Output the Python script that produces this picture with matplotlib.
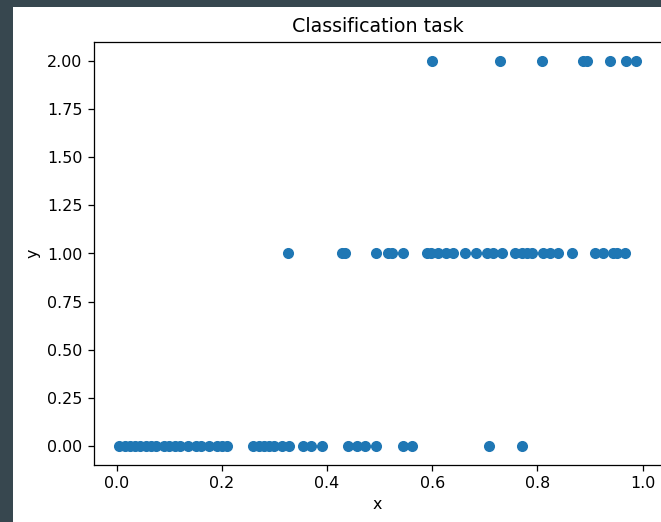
import numpy as np
import matplotlib
matplotlib.use('Agg')
import matplotlib.pyplot as plt
from matplotlib.patches import Rectangle

# valores: clase 0, 1 y 2
x_clase0 = [0.005, 0.015, 0.025, 0.035, 0.045, 0.055, 0.065, 0.075, 0.09, 0.10,
            0.11, 0.12, 0.135, 0.15, 0.16, 0.175, 0.19, 0.20, 0.21,
            0.26, 0.27, 0.28, 0.29, 0.30, 0.315, 0.328,
            0.355, 0.37, 0.39,
            0.44, 0.457, 0.473, 0.494, 0.545, 0.561,
            0.708, 0.771]
x_clase1 = [0.326, 0.428, 0.435, 0.493, 0.516, 0.523, 0.544,
            0.59, 0.598, 0.611, 0.627, 0.64, 0.662, 0.684, 0.704, 0.716, 0.732,
            0.757, 0.77, 0.78, 0.79, 0.81, 0.825, 0.84, 0.865,
            0.909, 0.925, 0.944, 0.952, 0.966]
x_clase2 = [0.599, 0.729, 0.809, 0.886, 0.895, 0.938, 0.968, 0.987]

x = np.array(x_clase0 + x_clase1 + x_clase2)
y = np.array([0] * len(x_clase0) + [1] * len(x_clase1) + [2] * len(x_clase2))

dpi = 114
fig = plt.figure(figsize=(661 / dpi, 522 / dpi), dpi=dpi)
fig.patch.set_facecolor('#37474f')
# fondo blanco de la celda
fig.patches.append(Rectangle((13 / 661, 0), 1, 1 - 7 / 522, transform=fig.transFigure,
                             facecolor='white', edgecolor='none', zorder=-1))

ax = fig.add_axes([93.5 / 661, 57 / 522, 568 / 661, 423 / 522])
ax.scatter(x, y)
ax.set_title('Classification task')
ax.set_xlabel('x')
ax.set_ylabel('y')

fig.savefig('out.png', dpi=dpi)
